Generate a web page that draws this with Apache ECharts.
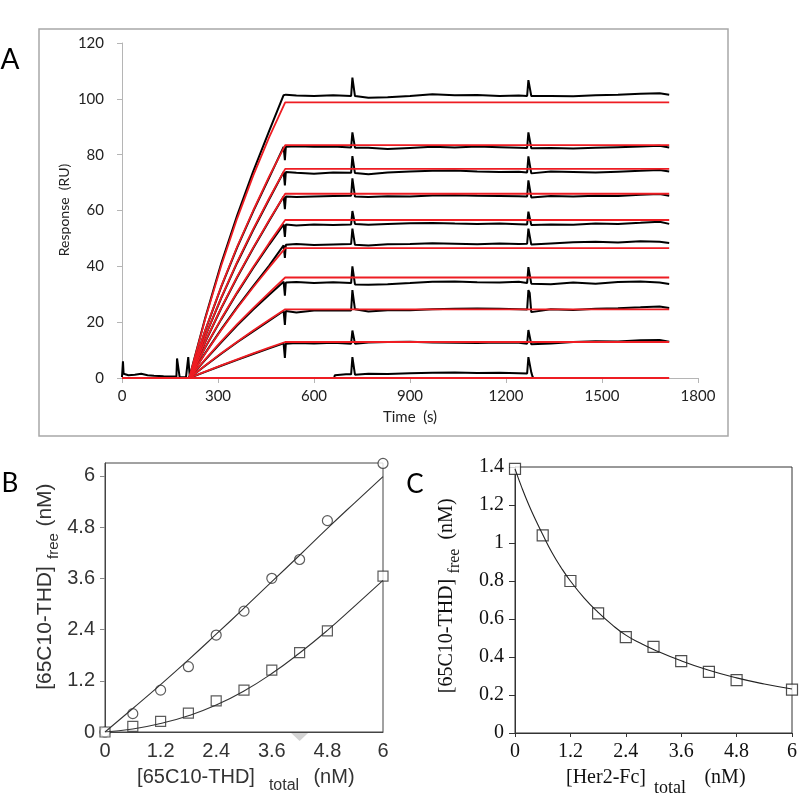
<!DOCTYPE html>
<html><head><meta charset="utf-8">
<script src="https://cdn.jsdelivr.net/npm/echarts@6/dist/echarts.min.js"></script>
<style>html,body{margin:0;padding:0;background:#fff}#c{width:800px;height:794px}</style>
</head><body><div id="c"></div><script>
// ---------- Panel A data ----------
const xTicksA = [0, 300, 600, 900, 1200, 1500, 1800];
const yTicksA = [0, 20, 40, 60, 80, 100, 120];
const baselineTimes = [0, 3, 5, 8, 20, 40, 60, 80, 100, 130, 160, 170, 172, 176, 180, 200, 205, 207, 210, 212];
const baselineValues = [0.3, 6.0, 1.5, 0.8, 1.0, 1.2, 1.5, 1.0, 0.8, 0.6, 0.5, 0.5, 7.0, 6.5, 0.4, 0.3, 0.3, 7.5, 7.0, 0];
const fitTimes = [210, 260, 310, 360, 410, 460, 510, 1710];
const fit1 = [0, 21.1, 40.2, 57.2, 72.5, 86.3, 98.7, 98.7];
const fit2 = [0, 17.1, 32.8, 47.1, 60.0, 72.2, 83.4, 83.4];
const fit3 = [0, 15.0, 28.8, 41.6, 53.3, 64.4, 74.9, 74.9];
const fit4 = [0, 13.0, 25.1, 36.3, 46.7, 56.6, 66.0, 66.0];
const fit5 = [0, 11.0, 21.2, 30.8, 39.8, 48.4, 56.6, 56.6];
const fit6 = [0, 8.8, 17.2, 25.1, 32.5, 39.6, 46.5, 46.5];
const fit7 = [0, 6.7, 13.1, 19.3, 25.0, 30.6, 36.0, 36.0];
const fit8 = [0, 4.5, 8.9, 13.0, 17.0, 20.9, 24.6, 24.6];
const fit9 = [0, 2.3, 4.5, 6.7, 8.8, 10.9, 12.9, 12.9];
const fitZeroTimes = [0, 1710];
const fitZero = [0, 0];
const traceTimes = [210, 260, 310, 360, 410, 460, 505, 509,
  512, 545, 600, 660, 716, 720, 724, 728, 770, 830, 900, 970, 1040, 1110, 1180, 1240,
  1266, 1270, 1274, 1279, 1340, 1410, 1480, 1550, 1620, 1680, 1710];
const trace1 = [0, 21.5, 41.0, 58.3, 74.0, 88.5, 101.3, 101.8,
  101.5, 101.2, 101.0, 101.3, 101.0, 107.6, 107.0, 101.0, 100.4, 100.6, 101.0, 101.6, 101.3, 101.4, 101.0, 101.2,
  101.0, 106.7, 106.0, 101.0, 101.0, 100.9, 101.3, 101.5, 101.8, 102.0, 101.5];
const trace2 = [0, 17.0, 32.6, 46.8, 59.7, 71.8, 82.8, 78.0,
  82.8, 83.0, 82.8, 82.9, 82.6, 88.0, 87.5, 82.5, 82.5, 82.0, 82.4, 82.8, 82.6, 82.9, 82.7, 82.5,
  82.4, 88.0, 87.5, 82.3, 82.4, 82.2, 82.5, 82.7, 82.9, 83.2, 82.6];
const trace3 = [0, 14.9, 28.6, 41.3, 53.0, 64.0, 73.8, 69.0,
  73.8, 73.5, 73.2, 73.6, 73.5, 79.5, 79.0, 73.4, 73.0, 73.6, 74.0, 74.2, 74.3, 74.0, 73.8, 73.9,
  73.6, 79.4, 78.8, 73.3, 74.0, 73.8, 73.6, 73.9, 74.2, 74.5, 74.0];
const trace4 = [0, 12.9, 25.0, 36.1, 46.5, 56.3, 65.0, 60.5,
  65.0, 64.8, 65.0, 65.2, 65.3, 71.5, 71.0, 65.0, 64.8, 65.1, 65.0, 65.4, 65.5, 65.3, 65.2, 65.1,
  65.0, 70.8, 70.2, 64.7, 65.2, 65.0, 65.3, 65.2, 65.6, 65.9, 65.3];
const trace5 = [0, 10.9, 21.0, 30.5, 39.4, 47.8, 55.0, 50.5,
  55.0, 54.6, 55.0, 54.8, 55.0, 59.8, 59.2, 55.2, 54.9, 55.2, 55.4, 55.5, 55.3, 55.2, 55.3, 55.1,
  55.0, 59.6, 59.0, 54.8, 55.0, 54.9, 55.3, 55.2, 55.6, 56.0, 55.2];
const trace6 = [0, 8.9, 17.4, 25.4, 32.9, 40.3, 47.5, 43.0,
  47.7, 48.0, 47.6, 47.8, 48.0, 53.5, 53.0, 47.7, 47.5, 47.9, 48.0, 48.3, 48.1, 47.9, 48.2, 48.0,
  48.1, 53.5, 53.0, 47.8, 48.2, 48.6, 48.8, 48.5, 49.0, 48.8, 48.4];
const trace7 = [0, 6.5, 12.8, 18.9, 24.5, 29.8, 34.5, 29.5,
  34.2, 34.4, 34.0, 34.3, 34.0, 40.0, 39.3, 33.5, 33.4, 33.6, 34.0, 34.5, 34.6, 34.3, 34.2, 34.5,
  34.0, 39.7, 39.0, 33.8, 33.6, 34.2, 33.8, 34.4, 34.6, 34.2, 33.7];
const trace8 = [0, 4.4, 8.7, 12.8, 16.7, 20.5, 24.0, 19.0,
  24.0, 23.5, 24.2, 24.3, 24.2, 31.5, 30.8, 24.6, 23.8, 24.3, 24.3, 24.6, 24.8, 24.9, 24.8, 24.6,
  24.5, 31.5, 30.5, 23.6, 24.6, 24.4, 24.8, 25.0, 25.3, 25.6, 25.1];
const trace9 = [0, 2.2, 4.4, 6.5, 8.6, 10.6, 12.4, 7.2,
  12.3, 12.5, 12.4, 12.6, 12.3, 17.0, 16.5, 12.3, 12.7, 12.9, 13.0, 12.7, 12.6, 12.5, 12.7, 12.6,
  12.3, 17.2, 16.5, 12.1, 12.4, 12.9, 13.2, 13.1, 13.5, 13.6, 13.0];
const trace10Times = [655, 663, 665, 700, 716, 720, 724, 728, 770, 830, 900, 970, 1040, 1110, 1180, 1240, 1266, 1270, 1274, 1279, 1283, 1286];
const trace10 = [0, 0, 1.0, 1.3, 1.3, 7.5, 7.0, 1.2, 1.5, 1.4, 1.7, 1.9, 2.0, 1.8, 1.9, 1.7, 1.6, 7.5, 7.0, 2.0, 0.5, 0];

// ---------- Panel B data ----------
const bTicks = [0, 1.2, 2.4, 3.6, 4.8, 6];
const bX = [0, 0.6, 1.2, 1.8, 2.4, 3.0, 3.6, 4.2, 4.8, 6.0];
const bCircles = [0, 0.43, 0.98, 1.53, 2.27, 2.83, 3.60, 4.04, 4.95, 6.29];
const bSquares = [0, 0.13, 0.25, 0.44, 0.73, 0.98, 1.45, 1.86, 2.37, 3.65];
const bFitX = [0, 0.6, 1.2, 1.8, 2.4, 3.0, 3.6, 4.2, 4.8, 5.4, 6.0];
const bFitUpper = [0, 0.55, 1.11, 1.69, 2.29, 2.90, 3.52, 4.14, 4.77, 5.38, 5.98];
const bFitLower = [0, 0.07, 0.20, 0.38, 0.63, 0.96, 1.37, 1.85, 2.38, 2.96, 3.55];
const bMarkerX = [4.2];
const bMarkerY = [0];

// ---------- Panel C data ----------
const cTicksX = [0, 1.2, 2.4, 3.6, 4.8, 6];
const cTicksY = [0, 0.2, 0.4, 0.6, 0.8, 1, 1.2, 1.4];
const cX = [0, 0.6, 1.2, 1.8, 2.4, 3.0, 3.6, 4.2, 4.8, 6.0];
const cSquares = [1.39, 1.04, 0.80, 0.63, 0.505, 0.453, 0.378, 0.322, 0.278, 0.228];
const cFitX = [0, 0.15, 0.3, 0.45, 0.6, 0.8, 1.0, 1.2, 1.5, 1.8, 2.1, 2.4, 2.7, 3.0, 3.6, 4.2, 4.8, 5.4, 6.0];
const cFit = [1.39, 1.29, 1.20, 1.12, 1.045, 0.95, 0.87, 0.80, 0.71, 0.635, 0.57, 0.515, 0.475, 0.44, 0.38, 0.33, 0.29, 0.258, 0.232];

const zip = (xs, ys) => xs.map((x, i) => [x, ys[i]]);
const chart = echarts.init(document.getElementById('c'), null, {renderer: 'canvas'});

const fits = [fit1, fit2, fit3, fit4, fit5, fit6, fit7, fit8, fit9];
const traces = [trace1, trace2, trace3, trace4, trace5, trace6, trace7, trace8, trace9];
const RED = '#ee1d23';
const series = [];
series.push({type: 'line', xAxisIndex: 0, yAxisIndex: 0, data: zip(baselineTimes, baselineValues), showSymbol: false, lineStyle: {color: '#000', width: 2}, z: 2});
traces.forEach(tr => series.push({type: 'line', xAxisIndex: 0, yAxisIndex: 0, data: zip(traceTimes, tr), showSymbol: false, lineStyle: {color: '#000', width: 2}, z: 2}));
series.push({type: 'line', xAxisIndex: 0, yAxisIndex: 0, data: zip(trace10Times, trace10), showSymbol: false, lineStyle: {color: '#000', width: 2}, z: 2});
series.push({type: 'line', xAxisIndex: 0, yAxisIndex: 0, data: zip(fitZeroTimes, fitZero), showSymbol: false, lineStyle: {color: RED, width: 1.8}, z: 3});
fits.forEach(f => series.push({type: 'line', xAxisIndex: 0, yAxisIndex: 0, data: zip(fitTimes, f), showSymbol: false, lineStyle: {color: RED, width: 1.8}, z: 3}));

// Panel B
series.push({type: 'line', xAxisIndex: 1, yAxisIndex: 1, data: zip(bFitX, bFitUpper), showSymbol: false, smooth: true, lineStyle: {color: '#333', width: 1.1}});
series.push({type: 'line', xAxisIndex: 1, yAxisIndex: 1, data: zip(bFitX, bFitLower), showSymbol: false, smooth: true, lineStyle: {color: '#333', width: 1.1}});
series.push({type: 'scatter', xAxisIndex: 1, yAxisIndex: 1, data: zip(bX, bCircles), symbol: 'circle', symbolSize: 10, clip: false,
  itemStyle: {color: '#fff', borderColor: '#333', borderWidth: 1.2}});
series.push({type: 'scatter', xAxisIndex: 1, yAxisIndex: 1, data: zip(bX, bSquares), symbol: 'rect', symbolSize: 10, clip: false,
  itemStyle: {color: '#fff', borderColor: '#333', borderWidth: 1.2}});
series.push({type: 'scatter', xAxisIndex: 1, yAxisIndex: 1, data: zip(bMarkerX, bMarkerY), symbol: 'triangle', symbolRotate: 180, symbolSize: [17, 8], symbolOffset: [0, 5], clip: false,
  itemStyle: {color: '#c8c8c8'}, z: 1});

// Panel C
series.push({type: 'line', xAxisIndex: 2, yAxisIndex: 2, data: zip(cFitX, cFit), showSymbol: false, smooth: true, lineStyle: {color: '#222', width: 1.1}});
series.push({type: 'scatter', xAxisIndex: 2, yAxisIndex: 2, data: zip(cX, cSquares), symbol: 'rect', symbolSize: 11, clip: false,
  itemStyle: {color: '#fff', borderColor: '#222', borderWidth: 1.2}});

const fA = 'Lato', fB = '"Liberation Sans", Arial, sans-serif', fC = '"Liberation Serif", "Times New Roman", serif';

const option = {
  animation: false,
  backgroundColor: '#fff',
  grid: [
    {left: 122, top: 43, width: 576, height: 335},
    {left: 105, top: 463, width: 278, height: 269, show: true, borderColor: '#444', borderWidth: 1},
    {left: 515, top: 467, width: 278, height: 266, show: true, borderColor: '#333', borderWidth: 1}
  ],
  xAxis: [
    {gridIndex: 0, type: 'value', min: xTicksA[0], max: xTicksA[xTicksA.length - 1], interval: 300, splitLine: {show: false},
      axisLine: {lineStyle: {color: '#b5b5b5', width: 1}}, axisTick: {show: true, length: 5, lineStyle: {color: '#b5b5b5'}},
      axisLabel: {color: '#222', fontFamily: fA, fontSize: 15, margin: 11, formatter: v => String(v)}},
    {gridIndex: 1, type: 'value', min: 0, max: bTicks[bTicks.length - 1], interval: 1.2, splitLine: {show: false},
      axisLine: {lineStyle: {color: '#444', width: 1}}, axisTick: {show: false},
      axisLabel: {color: '#333', fontFamily: fB, fontSize: 20, margin: 9}},
    {gridIndex: 2, type: 'value', min: 0, max: cTicksX[cTicksX.length - 1], interval: 1.2, splitLine: {show: false},
      axisLine: {lineStyle: {color: '#333', width: 1}}, axisTick: {show: true, length: 4, lineStyle: {color: '#333'}},
      axisLabel: {color: '#111', fontFamily: fC, fontSize: 20, margin: 9}}
  ],
  yAxis: [
    {gridIndex: 0, type: 'value', min: yTicksA[0], max: yTicksA[yTicksA.length - 1], interval: 20, splitLine: {show: false},
      axisLine: {show: true, lineStyle: {color: '#b5b5b5', width: 1}}, axisTick: {show: true, length: 5, lineStyle: {color: '#b5b5b5'}},
      axisLabel: {color: '#222', fontFamily: fA, fontSize: 15, margin: 18, formatter: v => String(v)}},
    {gridIndex: 1, type: 'value', min: 0, max: 6.3, interval: 1.2, splitLine: {show: false},
      axisLine: {show: true, lineStyle: {color: '#444', width: 1}}, axisTick: {show: true, length: 5, lineStyle: {color: '#888'}},
      axisLabel: {color: '#333', fontFamily: fB, fontSize: 20, margin: 10, showMaxLabel: false,
        formatter: v => (bTicks.some(t => Math.abs(t - v) < 1e-6) ? String(+v.toFixed(1)) : '')}},
    {gridIndex: 2, type: 'value', min: 0, max: cTicksY[cTicksY.length - 1], interval: 0.2, splitLine: {show: false},
      axisLine: {show: true, lineStyle: {color: '#333', width: 1}}, axisTick: {show: true, length: 6, lineStyle: {color: '#333'}},
      axisLabel: {color: '#111', fontFamily: fC, fontSize: 20, margin: 11}}
  ],
  series: series,
  graphic: [
    {type: 'rect', shape: {x: 39, y: 29, width: 689, height: 407}, style: {fill: 'none', stroke: '#a8a8a8', lineWidth: 1.5}, z: -1},
    {type: 'text', x: 10, y: 60, style: {text: 'A', font: '28px Lato', fill: '#000', textAlign: 'center', textVerticalAlign: 'middle'}},
    {type: 'text', x: 10, y: 484, style: {text: 'B', font: '26px Lato', fill: '#000', textAlign: 'center', textVerticalAlign: 'middle'}},
    {type: 'text', x: 415, y: 485, style: {text: 'C', font: '26px Lato', fill: '#000', textAlign: 'center', textVerticalAlign: 'middle'}},
    // Panel A titles
    {type: 'text', x: 410, y: 417, style: {text: 'Time  (s)', font: '15px Lato', fill: '#222', textAlign: 'center', textVerticalAlign: 'middle'}},
    {type: 'text', x: 64, y: 210, rotation: Math.PI / 2, style: {text: 'Response  (RU)', font: '14px Lato', fill: '#222', textAlign: 'center', textVerticalAlign: 'middle'}},
    // Panel B titles
    {type: 'text', x: 196, y: 777, style: {text: '[65C10-THD]', font: '20px "Liberation Sans"', fill: '#333', textAlign: 'center', textVerticalAlign: 'middle'}},
    {type: 'text', x: 284, y: 786, style: {text: 'total', font: '16px "Liberation Sans"', fill: '#333', textAlign: 'center', textVerticalAlign: 'middle'}},
    {type: 'text', x: 334, y: 777, style: {text: '(nM)', font: '20px "Liberation Sans"', fill: '#333', textAlign: 'center', textVerticalAlign: 'middle'}},
    {type: 'text', x: 45, y: 628, rotation: Math.PI / 2, style: {text: '[65C10-THD]', font: '21px "Liberation Sans"', fill: '#333', textAlign: 'center', textVerticalAlign: 'middle'}},
    {type: 'text', x: 54, y: 546, rotation: Math.PI / 2, style: {text: 'free', font: '15px "Liberation Sans"', fill: '#333', textAlign: 'center', textVerticalAlign: 'middle'}},
    {type: 'text', x: 45, y: 505, rotation: Math.PI / 2, style: {text: '(nM)', font: '21px "Liberation Sans"', fill: '#333', textAlign: 'center', textVerticalAlign: 'middle'}},
    // Panel C titles
    {type: 'text', x: 606, y: 778, style: {text: '[Her2-Fc]', font: '20px "Liberation Serif"', fill: '#111', textAlign: 'center', textVerticalAlign: 'middle'}},
    {type: 'text', x: 670, y: 788, style: {text: 'total', font: '18px "Liberation Serif"', fill: '#111', textAlign: 'center', textVerticalAlign: 'middle'}},
    {type: 'text', x: 725, y: 778, style: {text: '(nM)', font: '20px "Liberation Serif"', fill: '#111', textAlign: 'center', textVerticalAlign: 'middle'}},
    {type: 'text', x: 447, y: 636, rotation: Math.PI / 2, style: {text: '[65C10-THD]', font: '20px "Liberation Serif"', fill: '#111', textAlign: 'center', textVerticalAlign: 'middle'}},
    {type: 'text', x: 455, y: 561, rotation: Math.PI / 2, style: {text: 'free', font: '16px "Liberation Serif"', fill: '#111', textAlign: 'center', textVerticalAlign: 'middle'}},
    {type: 'text', x: 447, y: 519, rotation: Math.PI / 2, style: {text: '(nM)', font: '20px "Liberation Serif"', fill: '#111', textAlign: 'center', textVerticalAlign: 'middle'}}
  ]
};
chart.setOption(option);
</script></body></html>
